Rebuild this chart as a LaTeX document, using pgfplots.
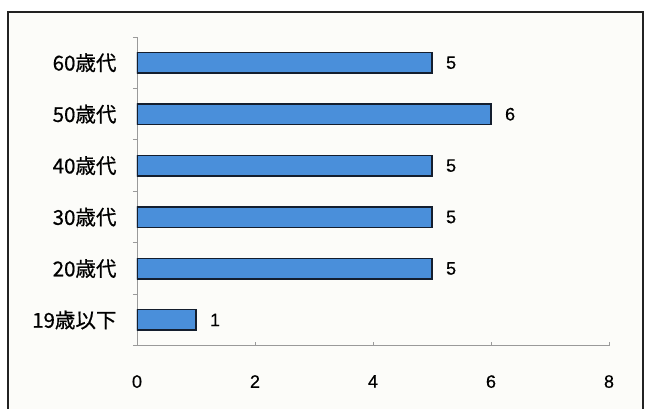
\documentclass[border=0pt]{standalone}
\usepackage{pgfplots}
\pgfplotsset{compat=1.18}
\usepackage{fontspec}
\setmainfont{Liberation Sans}
\newfontfamily\cjk[FakeBold=0.6]{Noto Sans CJK JP}
\newfontfamily\num[FakeBold=0.4]{Liberation Sans}

\definecolor{barblue}{HTML}{4A8FDA}
\definecolor{barline}{HTML}{141E2E}
\definecolor{axisgray}{HTML}{9A9A9A}
\definecolor{framecol}{HTML}{222222}
\definecolor{paper}{HTML}{FCFCF9}

\begin{document}
\begin{tikzpicture}[x=1pt,y=1pt]
% page 648 x 409, 1px = 1pt
\path[use as bounding box] (0,0) rectangle (648,409);
\fill[paper] (8,0) rectangle (643,397);
\draw[framecol, line width=2.2pt] (8,0) -- (8,397) -- (643,397) -- (643,0);
\begin{axis}[
  at={(137pt,63.3pt)}, anchor=south west,
  scale only axis, width=472pt, height=308.7pt,
  xbar, bar width=20.5pt,
  xmin=0, xmax=8, ymin=-0.5, ymax=5.5,
  xtick={0,2,4,6,8},
  ytick={0,...,5},
  yticklabels={19歳以下,20歳代,30歳代,40歳代,50歳代,60歳代},
  minor ytick={-0.5,0.5,...,5.5},
  axis x line*=bottom, axis y line*=left,
  axis line style={axisgray, line width=0.8pt},
  xtick align=inside, ytick align=outside,
  major tick length=4pt, minor tick length=4pt,
  every major y tick/.append style={draw=none},
  tick style={axisgray, line width=0.8pt},
  /pgf/number format/assume math mode=true,
  xticklabel style={font=\num\fontsize{18}{18}\selectfont, yshift=-26pt},
  yticklabel style={font=\cjk\fontsize{20.5}{20.5}\selectfont, xshift=-13pt},
  nodes near coords,
  every node near coord/.append style={font=\num\fontsize{18}{18}\selectfont, xshift=10pt},
]
\addplot[fill=barblue, draw=barline, line width=1.5pt]
  coordinates {(1,0) (5,1) (5,2) (5,3) (6,4) (5,5)};
\end{axis}
\end{tikzpicture}
\end{document}
